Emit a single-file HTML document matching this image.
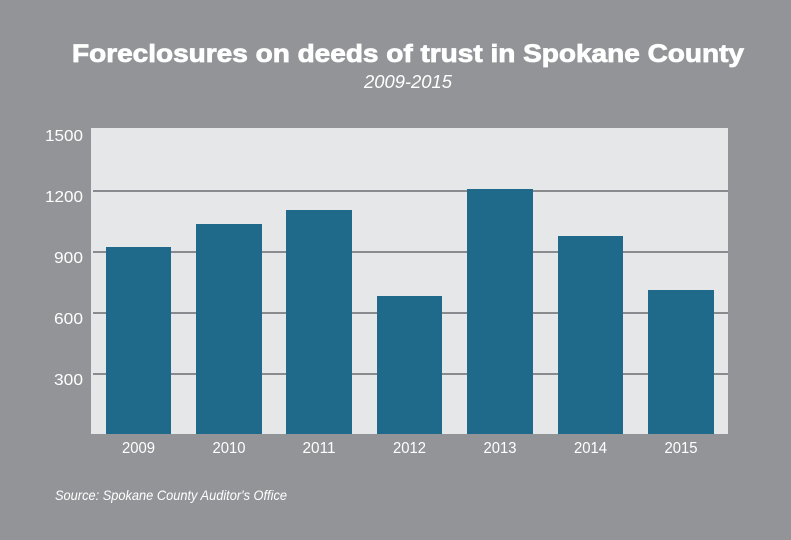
<!DOCTYPE html>
<html><head><meta charset="utf-8"><style>
html,body{margin:0;padding:0;background:#939498;}
svg{display:block;}
</style></head><body>
<svg width="791" height="540" xmlns="http://www.w3.org/2000/svg" font-family="Liberation Sans, sans-serif">
<rect width="791" height="540" fill="#939498"/>
<text x="408" y="62" text-anchor="middle" font-size="25" font-weight="bold" fill="#fff" stroke="#fff" stroke-width="0.8" textLength="672" lengthAdjust="spacingAndGlyphs">Foreclosures on deeds of trust in Spokane County</text>
<text x="408" y="88" text-anchor="middle" font-size="18" font-style="italic" fill="#fff" textLength="88" lengthAdjust="spacingAndGlyphs">2009-2015</text>
<rect x="91" y="128" width="637" height="306" fill="#e6e7e8"/>
<g stroke="#8a8b8e" stroke-width="2">
<line x1="93" x2="728" y1="191" y2="191"/>
<line x1="93" x2="728" y1="252" y2="252"/>
<line x1="93" x2="728" y1="313" y2="313"/>
<line x1="93" x2="728" y1="374" y2="374"/>
</g>
<g fill="#1f6a8b">
<rect x="106" y="247" width="65" height="187"/>
<rect x="196" y="224" width="66" height="210"/>
<rect x="286" y="210" width="66" height="224"/>
<rect x="377" y="296" width="65" height="138"/>
<rect x="467" y="189" width="66" height="245"/>
<rect x="558" y="236" width="65" height="198"/>
<rect x="648" y="290" width="66" height="144"/>
</g>
<g fill="#fff" font-size="16" text-anchor="end">
<text x="83" y="141" textLength="38" lengthAdjust="spacingAndGlyphs">1500</text>
<text x="83" y="202" textLength="38" lengthAdjust="spacingAndGlyphs">1200</text>
<text x="83" y="263" textLength="29" lengthAdjust="spacingAndGlyphs">900</text>
<text x="83" y="324" textLength="29" lengthAdjust="spacingAndGlyphs">600</text>
<text x="83" y="385" textLength="29" lengthAdjust="spacingAndGlyphs">300</text>
</g>
<g fill="#fff" font-size="16" text-anchor="middle">
<text x="138.5" y="453" textLength="33" lengthAdjust="spacingAndGlyphs">2009</text>
<text x="229" y="453" textLength="33" lengthAdjust="spacingAndGlyphs">2010</text>
<text x="319" y="453" textLength="33" lengthAdjust="spacingAndGlyphs">2011</text>
<text x="409.5" y="453" textLength="33" lengthAdjust="spacingAndGlyphs">2012</text>
<text x="500" y="453" textLength="33" lengthAdjust="spacingAndGlyphs">2013</text>
<text x="590.5" y="453" textLength="33" lengthAdjust="spacingAndGlyphs">2014</text>
<text x="681" y="453" textLength="33" lengthAdjust="spacingAndGlyphs">2015</text>
</g>
<text x="55" y="500" font-size="14" font-style="italic" fill="#fff" textLength="232" lengthAdjust="spacingAndGlyphs">Source: Spokane County Auditor's Office</text>
</svg>
</body></html>
